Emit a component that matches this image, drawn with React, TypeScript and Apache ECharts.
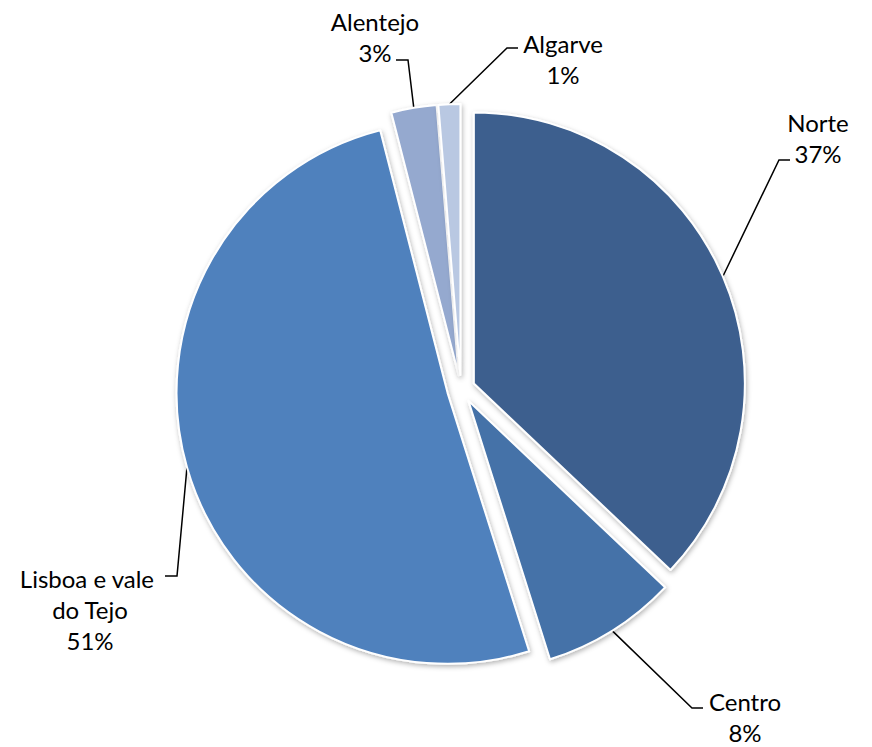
import React, { useEffect, useRef } from "react";
import * as echarts from "echarts";

const CATEGORIES = ["Norte", "Centro", "Lisboa e vale do Tejo", "Alentejo", "Algarve"];
const VALUES = [37.1, 8.06, 50.9, 2.7, 1.3];
const COLORS = ["#3C5F8E", "#4472A8", "#4F81BD", "#95A9CF", "#B9C8E2"];

// layout (not data): label centres and leader-line bends
const LABEL_LAYOUT = [
  { x: 818, y: 138, bend: [779, 160], end: [790, 160] },
  { x: 745, y: 717, bend: [692, 708], end: [703, 708] },
  { x: 90, y: 609, bend: [177, 576], end: [165, 576] },
  { x: 375, y: 37, bend: [408, 60], end: [396, 60] },
  { x: 563, y: 59, bend: [507, 48], end: [518, 48] },
];

const BASE_CX = 461;
const BASE_CY = 389;
const EXPLODE = 14;
const RADIUS = 271;

export default function App() {
  const ref = useRef<HTMLDivElement>(null);
  useEffect(() => {
    if (!ref.current) return;
    const chart = echarts.init(ref.current, null, { renderer: "svg" });
    const total = VALUES.reduce((a, b) => a + b, 0);
    let cum = 0;
    const series: any[] = CATEGORIES.map((_, k) => {
      const mid = (2 * Math.PI * (cum + VALUES[k] / 2)) / total;
      cum += VALUES[k];
      const cx = BASE_CX + EXPLODE * Math.sin(mid);
      const cy = BASE_CY - EXPLODE * Math.cos(mid);
      const lay = LABEL_LAYOUT[k];
      return {
        type: "pie",
        center: [cx, cy],
        radius: [0, RADIUS],
        startAngle: 90,
        clockwise: true,
        avoidLabelOverlap: false,
        percentPrecision: 0,
        silent: true,
        z: k === 2 ? 1 : 2,
        data: CATEGORIES.map((name, i) => ({
          name,
          value: VALUES[i],
          itemStyle:
            i === k
              ? {
                  color: COLORS[i],
                  borderColor: "#ffffff",
                  borderWidth: 2,
                  shadowBlur: 5,
                  shadowOffsetX: 1,
                  shadowOffsetY: 2,
                  shadowColor: "rgba(0,0,0,0.3)",
                }
              : { color: "transparent", borderWidth: 0, shadowBlur: 0 },
          label: { show: i === k },
          labelLine: { show: i === k },
        })),
        label: {
          show: true,
          position: "outside",
          formatter: (p: any) => `${p.name}\n${p.percent}%`,
          width: 150,
          overflow: "break",
          fontFamily: "Lato",
          fontSize: 24,
          lineHeight: 31,
          color: "#000000",
          align: "center",
        },
        labelLine: {
          show: true,
          lineStyle: { color: "#000000", width: 1.5 },
        },
        labelLayout: (params: any) => {
          if (params.dataIndex !== k) return {};
          const p0 =
            params.labelLinePoints && params.labelLinePoints[0]
              ? params.labelLinePoints[0]
              : [lay.bend[0], lay.bend[1]];
          return {
            x: lay.x,
            y: lay.y,
            align: "center",
            verticalAlign: "middle",
            labelLinePoints: [p0, lay.bend, lay.end],
          };
        },
        emphasis: { disabled: true },
      };
    });
    chart.setOption({
      animation: false,
      backgroundColor: "#ffffff",
      series,
    });
    return () => chart.dispose();
  }, []);
  return (
    <div
      ref={ref}
      style={{ position: "fixed", left: 0, top: 0, width: 872, height: 747 }}
    />
  );
}
